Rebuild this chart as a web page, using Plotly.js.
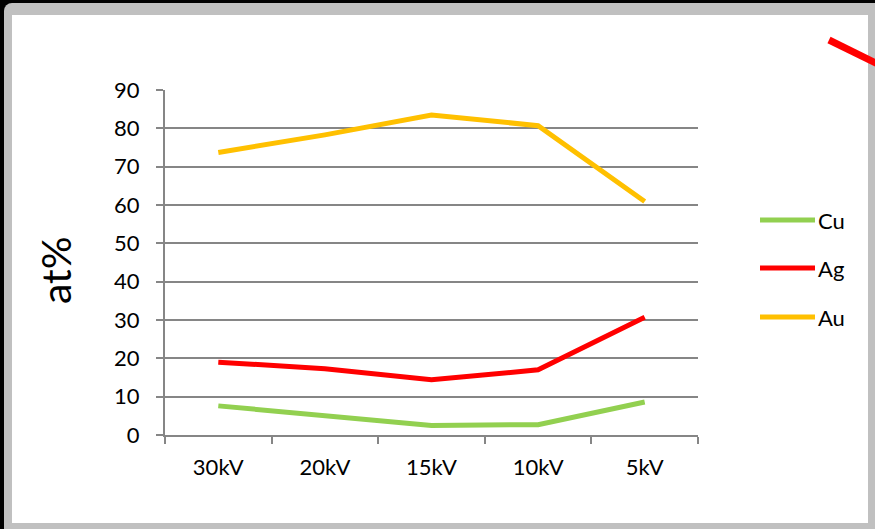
<!DOCTYPE html>
<html>
<head>
<meta charset="utf-8">
<script src="https://cdn.plot.ly/plotly-3.0.1.min.js"></script>
<style>
  html, body { margin:0; padding:0; background:#000; width:875px; height:529px; overflow:hidden; }
  #frame { position:absolute; left:4px; top:3px; width:871px; height:526px; background:#c0c0c0; border-top-left-radius:8px; }
  #paper { position:absolute; left:12px; top:15px; width:856px; height:508px; background:#fff; }
  #chart { position:absolute; left:0; top:0; width:875px; height:529px; }
</style>
</head>
<body>
<div id="frame"></div>
<div id="paper"></div>
<div id="chart"></div>
<script>
// Data
const categories = ["30kV", "20kV", "15kV", "10kV", "5kV"];
const seriesNames = ["Cu", "Ag", "Au"];
const cuValues = [7.6, 5.1, 2.5, 2.7, 8.6];
const agValues = [19.0, 17.3, 14.4, 17.0, 30.7];
const auValues = [73.7, 78.3, 83.5, 80.7, 60.9];
const seriesColors = ["#92D050", "#FF0000", "#FFC000"];
const yTickVals = [0, 10, 20, 30, 40, 50, 60, 70, 80, 90];
const yTitle = "at%";

const allValues = [cuValues, agValues, auValues];

// plot area in pixels
const L = 165, R = 698, T = 90, B = 435;
const W = 875, H = 529;
const px = x => (x - L) / (R - L);
const py = y => (B - y) / (B - T);

const font = "Lato, 'Open Sans', sans-serif";

const traces = seriesNames.map((n, i) => ({
  type: "scatter",
  mode: "lines",
  name: n,
  x: categories,
  y: allValues[i],
  line: { color: seriesColors[i], width: 5 },
  showlegend: false,
  hoverinfo: "skip"
}));

// custom legend (lines + labels)
const legendY = [220, 268, 317];
const shapes = [];
const annotations = [];
seriesNames.forEach((n, i) => {
  shapes.push({
    type: "line", xref: "paper", yref: "paper",
    x0: px(760), x1: px(815), y0: py(legendY[i]), y1: py(legendY[i]),
    line: { color: seriesColors[i], width: 5 }
  });
  annotations.push({
    xref: "paper", yref: "paper", x: px(816), y: py(legendY[i]),
    xanchor: "left", yanchor: "middle", showarrow: false,
    text: n, font: { family: font, size: 22, color: "#000" }
  });
});

// y axis title
annotations.push({
  xref: "paper", yref: "paper", x: px(55), y: py(270),
  xanchor: "center", yanchor: "middle", showarrow: false, textangle: -90,
  text: yTitle, font: { family: font, size: 41, color: "#000" }
});

// red decorative stroke at top right
shapes.push({
  type: "line", xref: "paper", yref: "paper",
  x0: px(829), y0: py(40), x1: px(880), y1: py(65),
  line: { color: "#FF0000", width: 7 }
});

const layout = {
  width: W, height: H,
  margin: { l: L, r: W - R, t: T, b: H - B, pad: 0 },
  paper_bgcolor: "rgba(0,0,0,0)",
  plot_bgcolor: "rgba(0,0,0,0)",
  font: { family: font, color: "#000", size: 22 },
  showlegend: false,
  xaxis: {
    type: "category",
    range: [-0.5, 4.5],
    showgrid: false,
    showline: true, linecolor: "#868686", linewidth: 2,
    ticks: "outside", tickson: "boundaries", ticklen: 7, tickcolor: "#868686", tickwidth: 2,
    tickfont: { family: font, size: 22, color: "#000" },
    ticklabelstandoff: 12,
    zeroline: false, fixedrange: true
  },
  yaxis: {
    range: [0, 90],
    tickvals: yTickVals,
    showgrid: true, gridcolor: "#868686", gridwidth: 2,
    showline: true, linecolor: "#868686", linewidth: 2,
    ticks: "outside", ticklen: 7, tickcolor: "#868686", tickwidth: 2,
    tickfont: { family: font, size: 22, color: "#000" },
    ticklabelstandoff: 12,
    zeroline: false, fixedrange: true
  },
  shapes: shapes,
  annotations: annotations
};

Plotly.newPlot("chart", traces, layout, { displayModeBar: false, staticPlot: true });
</script>
</body>
</html>
